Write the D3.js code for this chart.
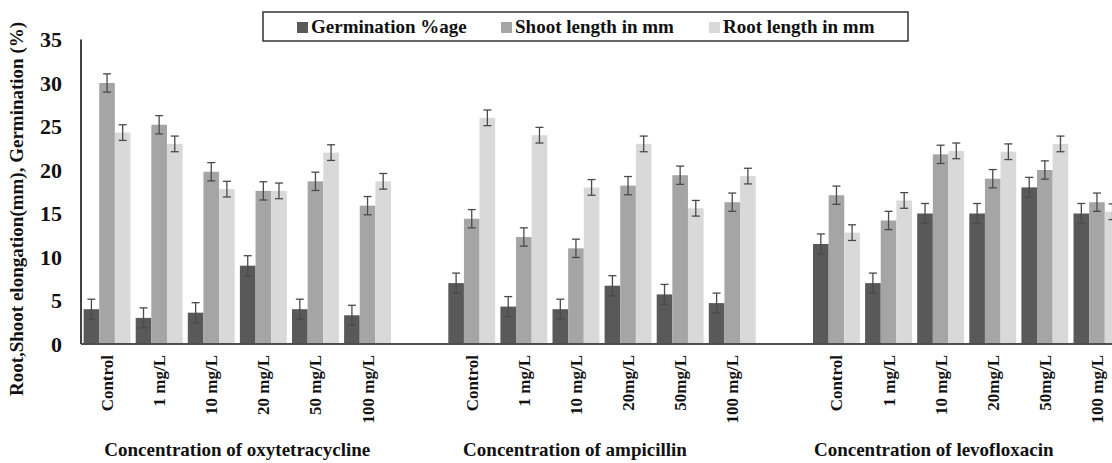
<!DOCTYPE html>
<html>
<head>
<meta charset="utf-8">
<script src="https://cdn.jsdelivr.net/npm/d3@7"></script>
<style>
  body { margin: 0; background: #fff; }
  svg { display: block; font-family: "Liberation Serif", "Times New Roman", "DejaVu Serif", serif; font-weight: bold; }
</style>
</head>
<body>
<svg width="1112" height="463"></svg>
<script>
var svg = d3.select('svg');

// groups and their dose labels
var groups = ['Concentration of oxytetracycline', 'Concentration of ampicillin', 'Concentration of levofloxacin'];
var doses1 = ['Control', '1 mg/L', '10 mg/L', '20 mg/L', '50 mg/L', '100 mg/L'];
var doses2 = ['Control', '1 mg/L', '10 mg/L', '20mg/L', '50mg/L', '100 mg/L'];
var doses3 = ['Control', '1 mg/L', '10 mg/L', '20mg/L', '50mg/L', '100 mg/L'];

var series = ['Germination %age', 'Shoot length in mm', 'Root length in mm'];
var germination = [4.0, 3.0, 3.6, 9.0, 4.0, 3.3, 7.0, 4.3, 4.0, 6.7, 5.7, 4.7, 11.5, 7.0, 15.0, 15.0, 18.0, 15.0];
var shoot = [30.0, 25.2, 19.8, 17.6, 18.7, 15.9, 14.4, 12.3, 11.0, 18.2, 19.4, 16.3, 17.1, 14.2, 21.8, 19.0, 20.0, 16.3];
var root = [24.3, 23.0, 17.8, 17.6, 22.0, 18.7, 26.0, 24.0, 18.0, 23.0, 15.6, 19.3, 12.8, 16.5, 22.2, 22.1, 23.0, 15.2];
var errors = [1.15, 1.05, 0.9];
var yTicks = [0, 5, 10, 15, 20, 25, 30, 35];

var colors = ['#595959', '#a5a5a5', '#d9d9d9'];

// build category keys, one blank slot between groups
var doseSets = [doses1, doses2, doses3];
var cats = [];
var rows = [];
doseSets.forEach(function(ds, g) {
    ds.forEach(function(d, i) {
        var k = g + '_' + i;
        cats.push(k);
        var n = g * 6 + i;
        rows.push({key: k, label: d, group: g, vals: [germination[n], shoot[n], root[n]]});
    });
    if (g < 2) cats.push('gap' + g);
});

var leftX = 81, baseY = 344, topY = 39.5;
var step = 52.1;

var x = d3.scaleBand().domain(cats).range([leftX, leftX + step * cats.length])
    .paddingInner(0.1).paddingOuter(0.05);
var xs = d3.scaleBand().domain([0, 1, 2]).range([0, x.bandwidth()]);
var y = d3.scaleLinear().domain([0, 35]).range([baseY, topY]);

// bars
var catG = svg.append('g').selectAll('g')
    .data(rows).enter().append('g')
    .attr('transform', function(d) { return 'translate(' + x(d.key) + ',0)'; });

catG.selectAll('rect')
    .data(function(d) { return d.vals; })
    .enter().append('rect')
    .attr('x', function(d, i) { return xs(i); })
    .attr('width', xs.bandwidth())
    .attr('y', function(d) { return y(d); })
    .attr('height', function(d) { return baseY - y(d); })
    .style('fill', function(d, i) { return colors[i]; });

// error bars
var errG = catG.selectAll('g.err')
    .data(function(d) { return d.vals; })
    .enter().append('g')
    .attr('class', 'err')
    .attr('transform', function(d, i) { return 'translate(' + (xs(i) + xs.bandwidth() / 2) + ',0)'; })
    .style('stroke', '#4a4a4a')
    .style('stroke-width', 1.3);
errG.append('line')
    .attr('y1', function(d, i) { return y(d + errors[i]); })
    .attr('y2', function(d, i) { return y(d - errors[i]); });
errG.append('line').attr('x1', -4).attr('x2', 4)
    .attr('y1', function(d, i) { return y(d + errors[i]); })
    .attr('y2', function(d, i) { return y(d + errors[i]); });
errG.append('line').attr('x1', -4).attr('x2', 4)
    .attr('y1', function(d, i) { return y(d - errors[i]); })
    .attr('y2', function(d, i) { return y(d - errors[i]); });

// axes
var yAxis = d3.axisLeft(y).tickValues(yTicks).tickSize(0).tickPadding(19);
var yg = svg.append('g').attr('transform', 'translate(' + leftX + ',0)').call(yAxis);
yg.select('.domain').remove();
yg.selectAll('text').style('font-size', '22px')
    .style('font-family', '"Liberation Serif", "Times New Roman", serif')
    .style('font-weight', 'bold').attr('fill', '#111');

svg.append('line').attr('x1', leftX).attr('x2', leftX).attr('y1', topY).attr('y2', baseY)
    .style('stroke', '#000').style('stroke-width', 1.5);
svg.append('line').attr('x1', leftX).attr('x2', 1112).attr('y1', baseY).attr('y2', baseY)
    .style('stroke', '#4d4d4d').style('stroke-width', 2);

// dose labels
svg.append('g').selectAll('text')
    .data(rows).enter().append('text')
    .attr('transform', function(d) { return 'translate(' + (x(d.key) + x.bandwidth() / 2) + ',355) rotate(-90)'; })
    .attr('text-anchor', 'end')
    .attr('dy', '0.35em')
    .style('font-size', '17px')
    .attr('fill', '#111')
    .text(function(d) { return d.label; });

// group titles (the 2nd and 3rd sit a bit left of their groups)
var titleShift = [0, -27, -33];
svg.append('g').selectAll('text')
    .data(groups).enter().append('text')
    .attr('x', function(d, g) {
        var a = x(g + '_0'), b = x(g + '_5') + x.bandwidth();
        return (a + b) / 2 + titleShift[g];
    })
    .attr('y', 456)
    .attr('text-anchor', 'middle')
    .style('font-size', '19px')
    .attr('fill', '#111')
    .text(function(d) { return d; });

// y title
svg.append('text')
    .attr('transform', 'translate(23,209) rotate(-90)')
    .attr('text-anchor', 'middle')
    .style('font-size', '19px')
    .attr('fill', '#111')
    .text('Root,Shoot elongation(mm), Germination (%)');

// legend
var lg = svg.append('g');
lg.append('rect').attr('x', 263).attr('y', 12).attr('width', 645).attr('height', 29)
    .style('fill', '#fff').style('stroke', '#333').style('stroke-width', 1.5);
var legX = [297, 501, 709];
var li = lg.selectAll('g.li').data(series).enter().append('g')
    .attr('transform', function(d, i) { return 'translate(' + legX[i] + ',0)'; });
li.append('rect').attr('y', 22).attr('width', 11).attr('height', 11)
    .style('fill', function(d, i) { return colors[i]; });
li.append('text').attr('x', 14).attr('y', 33)
    .style('font-size', '19px')
    .attr('fill', '#111')
    .text(function(d) { return d; });
</script>
</body>
</html>
